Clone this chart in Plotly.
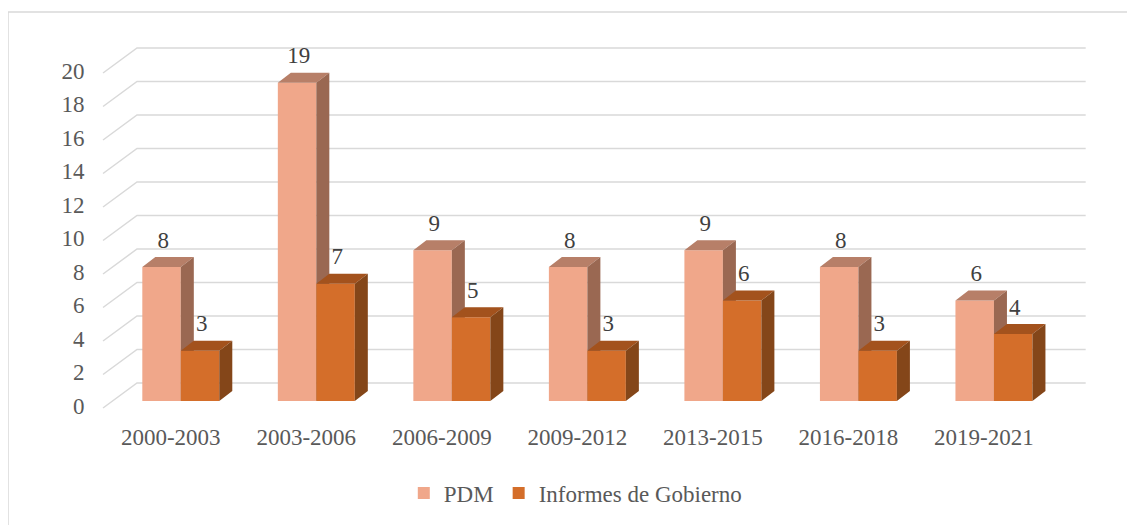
import plotly.graph_objects as go

periodos = ["2000-2003", "2003-2006", "2006-2009", "2009-2012",
            "2013-2015", "2016-2018", "2019-2021"]
pdm = [8, 19, 9, 8, 9, 8, 6]
informes = [3, 7, 5, 3, 6, 3, 4]
ticks_y = list(range(0, 21, 2))

FONT = "Liberation Serif, Times New Roman, serif"
GRIS = "#595959"
LINEA = "#d9d9d9"

# fake 3D geometry, in axis units
BW = 0.284            # bar width
DX, DY = 0.096, 0.597  # bar depth
WX, WY = 0.177, 1.075  # back wall offset
FX, FY = -0.074, -0.418  # front floor edge offset

xs = list(range(len(periodos)))
n = len(periodos)

fig = go.Figure()

# grid on side wall + back wall
gx, gy = [], []
for v in ticks_y:
    gx += [-0.5 + FX, -0.5 + WX, n - 0.5 + WX, None]
    gy += [v + FY, v + WY, v + WY, None]
fig.add_trace(go.Scatter(x=gx, y=gy, mode="lines",
                         line=dict(color=LINEA, width=1.5),
                         hoverinfo="skip", showlegend=False, zorder=0))

# y tick labels at the front floor edge
fig.add_trace(go.Scatter(x=[-0.71] * len(ticks_y), y=[v + FY for v in ticks_y],
                         text=[str(v) for v in ticks_y], mode="text",
                         textposition="middle left",
                         textfont=dict(family=FONT, size=23, color=GRIS),
                         hoverinfo="skip", showlegend=False, zorder=0))

# category labels
fig.add_trace(go.Scatter(x=[i + FX for i in xs], y=[-2.28] * n,
                         text=periodos, mode="text",
                         textfont=dict(family=FONT, size=23, color=GRIS),
                         hoverinfo="skip", showlegend=False, zorder=0))


def barras3d(nombre, vals, offset, c_front, c_top, c_side, z):
    fig.add_trace(go.Bar(x=xs, y=vals, width=BW, offset=offset, name=nombre,
                         marker=dict(color=c_front, line=dict(width=0)),
                         hoverinfo="skip", zorder=z))
    tx, ty, sx, sy = [], [], [], []
    for i, v in zip(xs, vals):
        x0 = i + offset
        x1 = x0 + BW
        tx += [x0, x1, x1 + DX, x0 + DX, x0, None]
        ty += [v, v, v + DY, v + DY, v, None]
        sx += [x1, x1 + DX, x1 + DX, x1, x1, None]
        sy += [0, DY, v + DY, v, 0, None]
    for px_, py_, col in ((tx, ty, c_top), (sx, sy, c_side)):
        fig.add_trace(go.Scatter(x=px_, y=py_, fill="toself", mode="lines",
                                 line=dict(width=0, color=col), fillcolor=col,
                                 hoverinfo="skip", showlegend=False, zorder=z))
    # data labels
    fig.add_trace(go.Scatter(x=[i + offset + BW / 2 + 0.012 for i in xs],
                             y=[v + 1.5 for v in vals],
                             text=[str(v) for v in vals], mode="text",
                             textfont=dict(family=FONT, size=23, color="#404040"),
                             cliponaxis=False, hoverinfo="skip",
                             showlegend=False, zorder=5))


barras3d("PDM", pdm, -BW, "#F0A78A", "#B77F68", "#9A6852", 1)
barras3d("Informes de Gobierno", informes, 0, "#D46E2A", "#A3521D", "#844619", 2)

fig.update_xaxes(range=[-1.0389, 6.7826], visible=False)
fig.update_yaxes(range=[-3.522, 21.552], visible=False)

fig.add_shape(type="rect", xref="paper", yref="paper",
              x0=(8 - 40) / 1060, x1=(1140 - 40) / 1060,
              y0=(460 - 530) / 420, y1=(460 - 12) / 420,
              line=dict(color=LINEA, width=1.5), layer="below")

fig.update_layout(
    width=1135, height=525,
    margin=dict(l=32, r=43, t=32, b=73),
    barmode="overlay",
    plot_bgcolor="white", paper_bgcolor="white",
    font=dict(family=FONT, size=23, color=GRIS),
    legend=dict(orientation="h", x=0.505, xanchor="center",
                y=-0.0786, yanchor="middle", traceorder="normal",
                font=dict(family=FONT, size=23, color=GRIS)),
)

fig.write_html("out.html")
